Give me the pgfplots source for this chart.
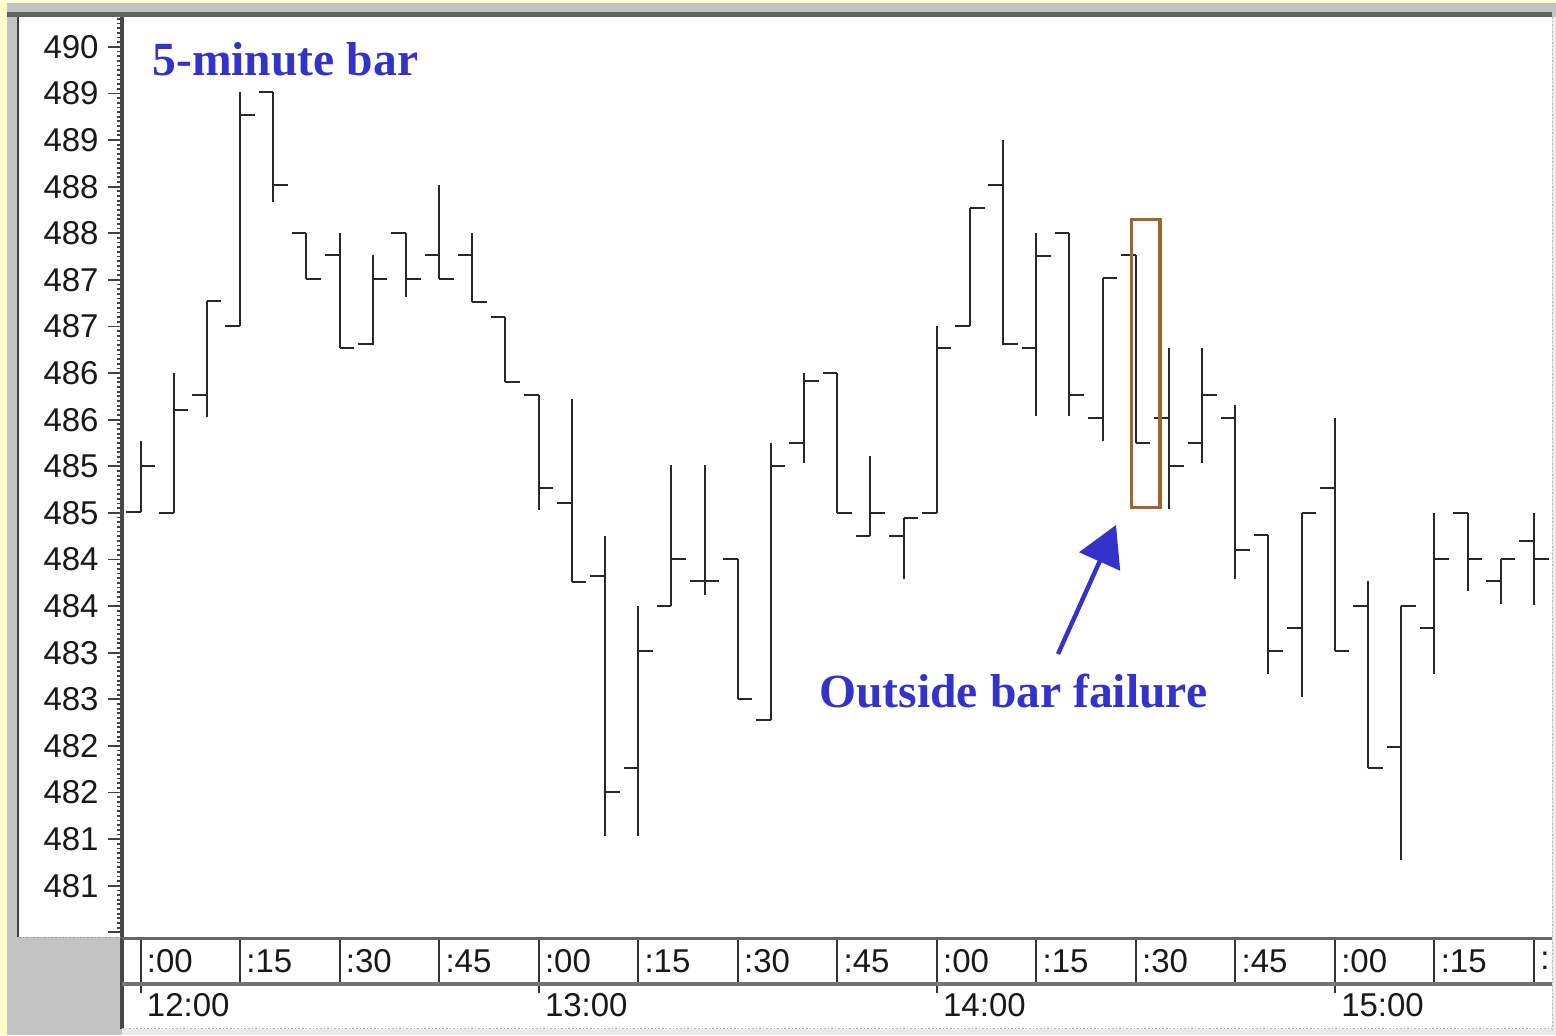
\documentclass[border=0pt]{standalone}
\usepackage{fontspec}
\setmainfont{Liberation Sans}
\newfontfamily\annfont{Liberation Serif}
\usepackage{pgfplots}
\pgfplotsset{compat=1.18}
\usepackage{pgfplotstable}
\usetikzlibrary{arrows.meta}

\definecolor{annblue}{RGB}{51,51,204}
\definecolor{boxbrown}{RGB}{160,100,45}
\definecolor{paleyellow}{RGB}{255,255,204}
\definecolor{framegray}{RGB}{195,195,195}
\definecolor{bargray}{RGB}{40,40,40}

% t = minutes after 12:00, O H L C
\pgfplotstableread{
t O H L C
0 485.01 485.77 485.01 485.50
5 485.00 486.50 485.00 486.10
10 486.26 487.27 486.03 487.27
15 487.00 489.51 487.00 489.27
20 489.51 489.51 488.33 488.52
25 488.00 488.00 487.51 487.51
30 487.77 488.00 486.77 486.77
35 486.81 487.77 486.80 487.51
40 488.00 488.00 487.32 487.51
45 487.77 488.52 487.51 487.51
50 487.77 488.00 487.26 487.26
55 487.10 487.10 486.40 486.40
60 486.27 486.27 485.03 485.27
65 485.11 486.22 484.26 484.26
70 484.32 484.75 481.53 482.01
75 482.26 484.00 481.53 483.52
80 484.00 485.51 484.00 484.51
85 484.27 485.51 484.12 484.27
90 484.51 484.51 483.00 483.00
95 482.78 485.75 482.78 485.50
100 485.75 486.50 485.53 486.41
105 486.50 486.50 485.00 485.00
110 484.75 485.61 484.75 485.00
115 484.75 484.94 484.29 484.94
120 485.00 487.01 485.00 486.77
125 487.01 488.27 487.01 488.27
130 488.52 489.00 486.80 486.81
135 486.77 488.00 486.04 487.76
140 488.00 488.00 486.04 486.26
145 486.02 487.52 485.77 487.52
150 487.77 487.77 485.75 485.75
155 486.02 486.77 485.04 485.50
160 485.75 486.77 485.53 486.26
165 486.02 486.16 484.29 484.60
170 484.76 484.76 483.27 483.52
175 483.76 485.00 483.02 485.00
180 485.27 486.02 483.52 483.52
185 484.00 484.27 482.26 482.26
190 482.49 484.00 481.28 484.00
195 483.76 485.00 483.27 484.51
200 485.00 485.00 484.16 484.51
205 484.27 484.51 484.02 484.51
210 484.70 485.00 484.01 484.51
}\bars

\pgfplotsset{
  common/.style={
    at={(0pt,0pt)}, anchor=south west,
    scale only axis, width=714.5pt, height=460pt,
    xmin=-2.64, xmax=212.73,
    axis line style={draw=none},
    tick align=outside,
  },
  lbl/.style={font=\fontsize{16.5pt}{18pt}\selectfont, text=black!90, inner sep=0pt},
}

\begin{document}
\begin{tikzpicture}
% ---------- background (pixel coordinates) ----------
\begin{scope}[x=0.5pt,y=-0.5pt,shift={(-61.5pt,468.5pt)}]
  \fill[paleyellow] (0,0) rectangle (1556,1035);
  \fill[framegray] (7,3) rectangle (1556,1035);
  \fill[black!62] (7,12.5) rectangle (1552,17);
  \fill[white] (19,17) rectangle (1552,937);
  \fill[white] (122,937) rectangle (1552,1029);
  \fill[black!8] (1552,17) rectangle (1556,1035);
  \fill[black!8] (122,1029) rectangle (1556,1035);
\end{scope}

% ---------- main price axis ----------
\begin{axis}[common,
  ymin=480.45, ymax=490.32,
  xtick=\empty,
  ytick={481,481.5,...,490},
  yticklabels={481,481,482,482,483,483,484,484,485,485,486,486,487,487,488,488,489,489,490},
  extra y ticks={480.5}, extra y tick labels={},
  minor ytick={480.5,480.55,...,490.31},
  ytick pos=left,
  major tick length=7.5pt, minor tick length=3pt,
  every tick/.style={draw=black!75, line width=0.9pt},
  yticklabel style={lbl, anchor=east, xshift=-4.5pt},
]
  % high-low lines
  \addplot[draw=none, mark=none, forget plot,
    error bars/.cd, y dir=both, y explicit, error mark=none,
    error bar style={draw=bargray, solid, line width=1pt}]
    table[x=t, y=C, y error plus expr=\thisrow{H}-\thisrow{C},
          y error minus expr=\thisrow{C}-\thisrow{L}] {\bars};
  % open ticks (left)
  \addplot[draw=none, mark=none, forget plot,
    error bars/.cd, x dir=minus, x fixed=2.2, error mark=none,
    error bar style={draw=bargray, solid, line width=1pt}]
    table[x=t, y=O] {\bars};
  % close ticks (right)
  \addplot[draw=none, mark=none, forget plot,
    error bars/.cd, x dir=plus, x fixed=2.2, error mark=none,
    error bar style={draw=bargray, solid, line width=1pt}]
    table[x=t, y=C] {\bars};
\end{axis}

% ---------- time axis, row 1 (quarter hours) ----------
\begin{axis}[common,
  ymin=0, ymax=1, ytick=\empty,
  xtick={0,15,...,210},
  xticklabels={:00,:15,:30,:45,:00,:15,:30,:45,:00,:15,:30,:45,:00,:15,:},
  xtick pos=left,
  major tick length=23pt,
  every tick/.style={draw=black!80, line width=1pt},
  xticklabel style={lbl, anchor=west, xshift=3pt, yshift=11pt},
]
\end{axis}

% ---------- time axis, row 2 (hours) ----------
\begin{axis}[common,
  ymin=0, ymax=1, ytick=\empty,
  xtick={0,60,120,180},
  xticklabels={12:00,13:00,14:00,15:00},
  xtick pos=left,
  major tick length=28pt,
  every tick/.style={draw=black!80, line width=1pt},
  xticklabel style={lbl, anchor=west, xshift=3pt, yshift=-6pt},
]
\end{axis}

% ---------- frame lines and annotations (pixel coordinates) ----------
\begin{scope}[x=0.5pt,y=-0.5pt,shift={(-61.5pt,468.5pt)}]
  \draw[black!75, line width=1.2pt] (18,17) -- (18,937);
  \draw[black!72, line width=1.6pt] (122,17) -- (122,1029);
  \draw[black!60, line width=1.6pt] (122,938.5) -- (1552,938.5);
  \draw[black!55, line width=2pt] (122,984) -- (1552,984);
  \draw[black!30, line width=0.8pt, densely dotted] (122,1028.5) -- (1552,1028.5);
  \draw[black!30, line width=0.8pt, densely dotted] (1552.5,17) -- (1552.5,1029);
  \draw[black!40, line width=0.8pt, densely dotted] (19,937.5) -- (120,937.5);

  \draw[boxbrown, line width=1.65pt] (1131.5,219.5) rectangle (1160,507.8);

  \draw[annblue, line width=2.2pt, -{Triangle[length=20pt, width=22pt]}]
    (1058,654) -- (1116,525);

  \node[anchor=base west, inner sep=0pt, text=annblue,
        font=\annfont\bfseries\fontsize{23.8pt}{26pt}\selectfont] at (152,76) {5-minute bar};
  \node[anchor=base west, inner sep=0pt, text=annblue,
        font=\annfont\bfseries\fontsize{23.8pt}{26pt}\selectfont] at (819,707) {Outside bar failure};
\end{scope}

\pgfresetboundingbox
\begin{scope}[x=0.5pt,y=-0.5pt,shift={(-61.5pt,468.5pt)}]
  \path[use as bounding box] (0,0) rectangle (1556,1035);
\end{scope}
\end{tikzpicture}
\end{document}
